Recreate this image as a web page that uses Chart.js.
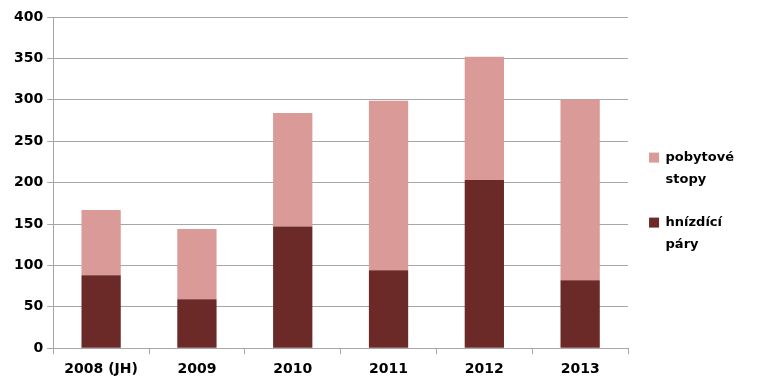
<!DOCTYPE html>
<html><head><meta charset="utf-8">
<script src="https://cdn.jsdelivr.net/npm/chart.js@4/dist/chart.umd.min.js"></script>
<style>html,body{margin:0;padding:0;background:#fff}#wrap{width:759px;height:391px}</style>
</head><body><div id="wrap"><canvas id="c" width="759" height="391"></canvas></div>
<script>
const categories = ['2008 (JH)', '2009', '2010', '2011', '2012', '2013'];
const nestingPairs = [88, 59, 147, 94, 203, 82];       // hnízdící páry
const residenceSigns = [79, 85, 137, 205, 149, 218];    // pobytové stopy
const yTicks = [0, 50, 100, 150, 200, 250, 300, 350, 400];

const FONT = {family: 'DejaVu Sans', size: 14, weight: 'bold'};
const GRID = '#A6A6A6';

new Chart(document.getElementById('c'), {
  type: 'bar',
  data: {
    labels: categories,
    datasets: [
      {label: ['hnízdící', 'páry'], data: nestingPairs, backgroundColor: '#6B2A28', barPercentage: 0.41, categoryPercentage: 1},
      {label: ['pobytové', 'stopy'], data: residenceSigns, backgroundColor: '#DA9A98', barPercentage: 0.41, categoryPercentage: 1}
    ]
  },
  options: {
    responsive: false,
    animation: false,
    layout: {padding: {top: 17, right: 15, bottom: 6, left: 10}},
    plugins: {
      tooltip: {enabled: false},
      legend: {
        position: 'right',
        reverse: true,
        title: {display: true, text: '', font: {size: 1}, padding: {top: 4, bottom: 4}},
        labels: {font: {family: 'DejaVu Sans', size: 13, weight: 'bold', lineHeight: '22px'}, color: '#000', boxWidth: 10, boxHeight: 10, padding: 21}
      }
    },
    scales: {
      x: {
        stacked: true,
        grid: {display: true, drawOnChartArea: false, color: GRID, tickLength: 6, offset: true},
        border: {color: GRID, width: 1},
        ticks: {font: FONT, color: '#000', padding: 7}
      },
      y: {
        stacked: true,
        min: 0, max: 400,
        afterBuildTicks: (s) => { s.ticks = yTicks.map(v => ({value: v})); },
        grid: {color: GRID, tickLength: 6},
        border: {color: GRID, width: 1},
        ticks: {font: FONT, color: '#000', padding: 4}
      }
    }
  }
});
</script></body></html>
